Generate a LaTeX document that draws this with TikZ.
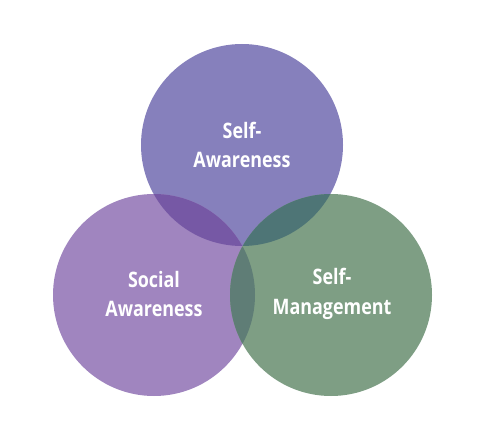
\documentclass[tikz,border=0pt]{standalone}
\usepackage{fontspec}
\newfontfamily\labelfont[FakeStretch=0.84]{Open Sans}
\definecolor{awareC}{RGB}{134,128,188}
\definecolor{socialC}{RGB}{160,133,191}
\definecolor{manageC}{RGB}{126,158,132}
\definecolor{awaresocialC}{RGB}{118,88,165}
\definecolor{awaremanageC}{RGB}{78,117,118}
\definecolor{socialmanageC}{RGB}{95,125,118}
\definecolor{allC}{RGB}{80,96,110}
\tikzset{every picture/.style={line width=0.75pt}}
\tikzset{circlabel/.style={anchor=center,inner sep=0.75pt,align=center,text=white,font=\labelfont\bfseries\fontsize{16}{22}\selectfont}}

\begin{document}
\begin{tikzpicture}[x=0.75pt,y=0.75pt,yscale=-1,xscale=1]
	\useasboundingbox (0,0) rectangle (484,441);
	
	%Shape: Circle top
	\fill [awareC] (242,145) circle (101);
	%Shape: Circle left
	\fill [socialC] (154,295) circle (101);
	%Shape: Circle right
	\fill [manageC] (331,295) circle (101);
	%Overlap top and left
	\begin{scope}
		\clip (242,145) circle (101);
		\fill [awaresocialC] (154,295) circle (101);
	\end{scope}
	%Overlap top and right
	\begin{scope}
		\clip (242,145) circle (101);
		\fill [awaremanageC] (331,295) circle (101);
	\end{scope}
	%Overlap left and right
	\begin{scope}
		\clip (154,295) circle (101);
		\fill [socialmanageC] (331,295) circle (101);
	\end{scope}
	%Overlap of all three
	\begin{scope}
		\clip (242,145) circle (101);
		\clip (154,295) circle (101);
		\fill [allC] (331,295) circle (101);
	\end{scope}
	
	% Text Node
	\node [circlabel] (selfaware) at (242,145) {Self-\\Awareness};
	% Text Node
	\node [circlabel] (socialaware) at (154,294) {Social\\Awareness};
	% Text Node
	\node [circlabel] (selfmanage) at (332,294) {Self-\\Management};
	
\end{tikzpicture}
\end{document}
